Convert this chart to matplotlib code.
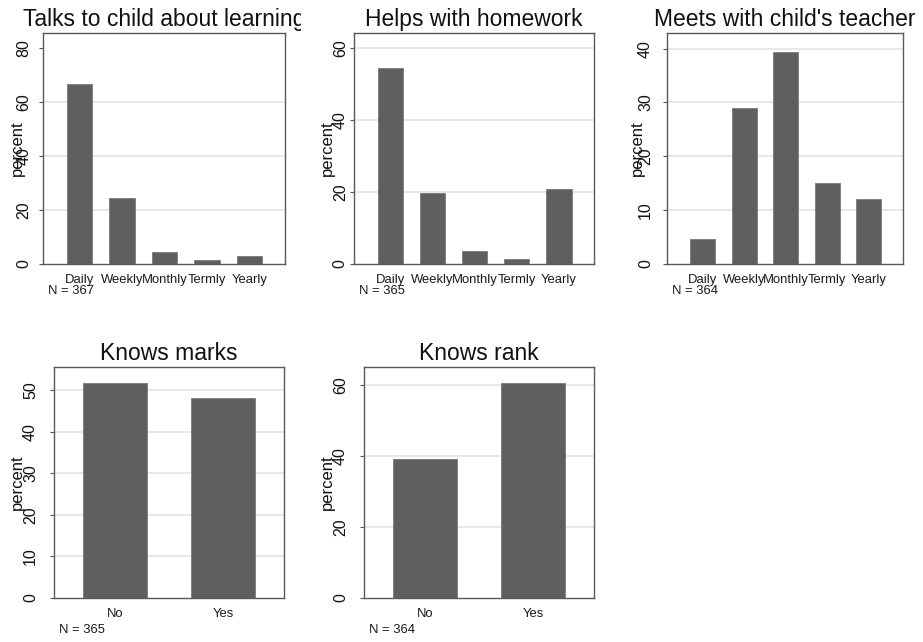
import matplotlib.pyplot as plt
from matplotlib.patches import Rectangle

plt.rcParams['font.family'] = ['Liberation Sans', 'DejaVu Sans']

freq_cats = ['Daily', 'Weekly', 'Monthly', 'Termly', 'Yearly']
yn_cats = ['No', 'Yes']

talks_pct = [66.5, 24.5, 4.4, 1.6, 3.0]
homework_pct = [54.5, 19.7, 3.6, 1.4, 20.8]
meets_pct = [4.7, 28.9, 39.3, 15.1, 12.0]
marks_pct = [51.8, 48.2]
rank_pct = [39.3, 60.7]

titles = ['Talks to child about learning', 'Helps with homework',
          "Meets with child's teacher", 'Knows marks', 'Knows rank']
n_obs = [367, 365, 364, 365, 364]
yticks = [[0, 20, 40, 60, 80], [0, 20, 40, 60], [0, 10, 20, 30, 40],
          [0, 10, 20, 30, 40, 50], [0, 20, 40, 60]]
grid_at = [[20, 40, 60], [20, 40, 60], [10, 20, 30, 40],
           [10, 20, 30, 40, 50], [20, 40, 60]]
ytops = [85.5, 64.2, 42.9, 55.6, 65.2]

W, H = 923, 642
# pixel boxes: left, right, top, bottom, ylabel edge, tick pad
boxes = [(43, 285, 33, 264, 25, 5.3),
         (354, 594, 33, 264, 335, 1.5),
         (667, 903, 33, 264, 645, 7.0),
         (54, 284, 367, 598, 25, 8.5),
         (364, 594, 367, 598, 335, 8.5)]

fig = plt.figure(figsize=(W / 100, H / 100), dpi=100, facecolor='white')

panels = [(freq_cats, talks_pct), (freq_cats, homework_pct), (freq_cats, meets_pct),
          (yn_cats, marks_pct), (yn_cats, rank_pct)]

for i, (cats, vals) in enumerate(panels):
    l, r, t, b, lab_x, pad = boxes[i]
    ax = fig.add_axes([l / W, (H - b) / H, (r - l) / W, (b - t) / H])
    x = list(range(len(cats)))
    ax.bar(x, vals, width=0.6, color='#5f5f5f', edgecolor='#7a7a7a',
           linewidth=0.6, zorder=3)
    if len(cats) == 5:
        ax.set_xlim(-0.86, 4.83)
    else:
        ax.set_xlim(-0.565, 1.565)
    ax.set_ylim(0, ytops[i])
    ax.set_yticks(yticks[i])
    ax.set_yticklabels([str(v) for v in yticks[i]], rotation=90, va='center',
                       fontsize=11.5, color='#111111')
    ax.tick_params(axis='y', length=3, width=0.8, color='#555555', pad=pad)
    ax.set_xticks(x)
    ax.set_xticklabels(cats, fontsize=9.4, color='#1a1a1a')
    ax.tick_params(axis='x', length=0, pad=7)
    for v in grid_at[i]:
        ax.axhline(v, color='#e4e4e4', lw=1.2, zorder=1)
    for s in ax.spines.values():
        s.set_color('#5a5a5a')
        s.set_linewidth(1.0)
    ax.set_ylabel('percent', fontsize=12, color='#111111')
    ax.yaxis.set_label_coords((lab_x - l) / (r - l), 0.5)
    ax.set_title(titles[i], fontsize=16.5, color='#111111', pad=5)
    ax.text(l + 5, H - b - 33 if i < 3 else H - b - 38, 'N = %d' % n_obs[i],
            transform=None, fontsize=9.4, color='#1a1a1a', va='bottom', ha='left')

# the first heading runs past its cell; blank out the overflow
fig.add_artist(Rectangle((301 / W, (H - 32) / H), 38 / W, 32 / H,
                         transform=fig.transFigure, facecolor='white',
                         edgecolor='none', zorder=10))

fig.savefig('out.png', dpi=100, facecolor='white')
